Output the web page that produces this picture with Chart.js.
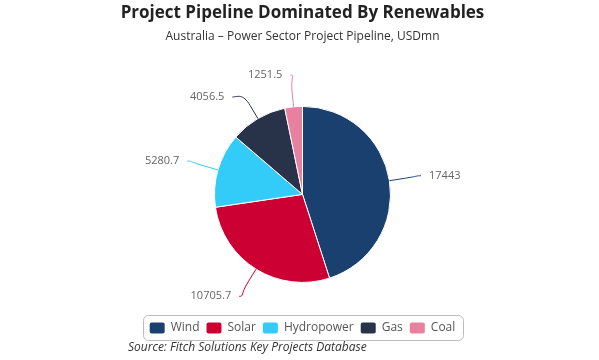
<!DOCTYPE html>
<html>
<head>
<meta charset="utf-8">
<script src="https://cdn.jsdelivr.net/npm/chart.js@4"></script>
<style>
  html, body { margin: 0; padding: 0; background: #fff; }
  #wrap { width: 599px; height: 360px; position: relative; }
</style>
</head>
<body>
<div id="wrap"><canvas id="c" width="599" height="360"></canvas></div>
<script>
const categories = ['Wind', 'Solar', 'Hydropower', 'Gas', 'Coal'];
const values = [17443, 10705.7, 5280.7, 4056.5, 1251.5];
const labelsText = ['17443', '10705.7', '5280.7', '4056.5', '1251.5'];
const colors = ['#1a4070', '#cc0033', '#33ccf8', '#283249', '#e8819f'];
const titleText = 'Project Pipeline Dominated By Renewables';
const subtitleText = 'Australia \u2013 Power Sector Project Pipeline, USDmn';
const sourceText = 'Source: Fitch Solutions Key Projects Database';

Chart.defaults.font.family = "'Open Sans', sans-serif";

const pieLabels = {
  id: 'pieLabels',
  afterDatasetsDraw(chart) {
    const meta = chart.getDatasetMeta(0);
    const ctx = chart.ctx;
    const items = [];
    meta.data.forEach((arc, i) => {
      const p = arc.getProps(['x', 'y', 'startAngle', 'endAngle', 'outerRadius'], true);
      const mid = (p.startAngle + p.endAngle) / 2;
      const cos = Math.cos(mid), sin = Math.sin(mid);
      const R = p.outerRadius + 32;
      items.push({ i, cx: p.x, cy: p.y, r: p.outerRadius, R, cos, sin,
        left: cos < 0, y: p.y + sin * R });
    });
    [true, false].forEach(side => {
      const s = items.filter(it => it.left === side).sort((a, b) => a.y - b.y);
      for (let k = 1; k < s.length; k++) {
        if (s[k].y - s[k - 1].y < 22) s[k].y = s[k - 1].y + 22;
      }
    });
    ctx.save();
    items.forEach(it => {
      const dy = it.y - it.cy;
      const dx = Math.sqrt(Math.max(0, it.R * it.R - dy * dy));
      const lx = it.cx + (it.left ? -dx : dx);
      const ly = it.y;
      const tx = it.cx + it.cos * it.r, ty = it.cy + it.sin * it.r;
      const bx = it.cx + it.cos * (it.r + 15), by = it.cy + it.sin * (it.r + 15);
      ctx.beginPath();
      ctx.strokeStyle = colors[it.i];
      ctx.lineWidth = 1;
      ctx.moveTo(lx, ly);
      ctx.bezierCurveTo(lx + (it.left ? 5 : -5), ly, 2 * bx - tx, 2 * by - ty, bx, by);
      ctx.lineTo(tx, ty);
      ctx.stroke();
      ctx.fillStyle = '#666';
      ctx.font = "11px 'Open Sans', sans-serif";
      ctx.textBaseline = 'middle';
      ctx.textAlign = it.left ? 'right' : 'left';
      ctx.fillText(labelsText[it.i], lx + (it.left ? -8 : 8), ly);
    });
    ctx.restore();
  }
};

const legendBox = {
  id: 'legendBox',
  afterDraw(chart) {
    const lg = chart.legend;
    const hb = lg.legendHitBoxes;
    if (!hb || !hb.length) return;
    let l = Infinity, r = -Infinity, t = Infinity, b = -Infinity;
    hb.forEach(h => { l = Math.min(l, h.left); r = Math.max(r, h.left + h.width); t = Math.min(t, h.top); b = Math.max(b, h.top + h.height); });
    const ctx = chart.ctx;
    ctx.save();
    ctx.strokeStyle = '#bdbdbd';
    ctx.lineWidth = 1;
    const x0 = Math.round(l - 7) + 0.5, y0 = Math.round(t - 7) + 0.5;
    const w = Math.round(r - l + 14), h = Math.round(b - t + 13);
    ctx.beginPath();
    ctx.roundRect(x0, y0, w, h, 5);
    ctx.stroke();
    ctx.fillStyle = '#333';
    ctx.font = "italic 12px 'Open Sans', sans-serif";
    ctx.textBaseline = 'middle';
    ctx.textAlign = 'left';
    ctx.fillText(sourceText, 128, 348);
    ctx.restore();
  }
};

new Chart(document.getElementById('c'), {
  type: 'pie',
  data: {
    labels: categories,
    datasets: [{
      data: values,
      backgroundColor: colors,
      borderColor: '#ffffff',
      borderWidth: 1,
      radius: 88
    }]
  },
  options: {
    responsive: false,
    animation: false,
    layout: { padding: { left: 6, bottom: 16 } },
    plugins: {
      title: {
        display: true,
        text: titleText,
        color: '#222',
        font: { size: 17, weight: 'bold' },
        padding: { top: 3, bottom: 3 }
      },
      subtitle: {
        display: true,
        text: subtitleText,
        color: '#333',
        font: { size: 12 },
        padding: { top: 3, bottom: 30 }
      },
      legend: {
        position: 'bottom',
        labels: {
          color: '#555',
          font: { size: 12 },
          boxWidth: 15,
          boxHeight: 11,
          padding: 7,
          useBorderRadius: true,
          borderRadius: 2,
          generateLabels(chart) {
            const ds = chart.data.datasets[0];
            return chart.data.labels.map((lab, i) => ({
              text: lab, fillStyle: ds.backgroundColor[i], strokeStyle: ds.backgroundColor[i],
              lineWidth: 0, fontColor: '#555', index: i, hidden: false, borderRadius: 2
            }));
          }
        }
      },
      tooltip: { enabled: false }
    }
  },
  plugins: [pieLabels, legendBox]
});
</script>
</body>
</html>
